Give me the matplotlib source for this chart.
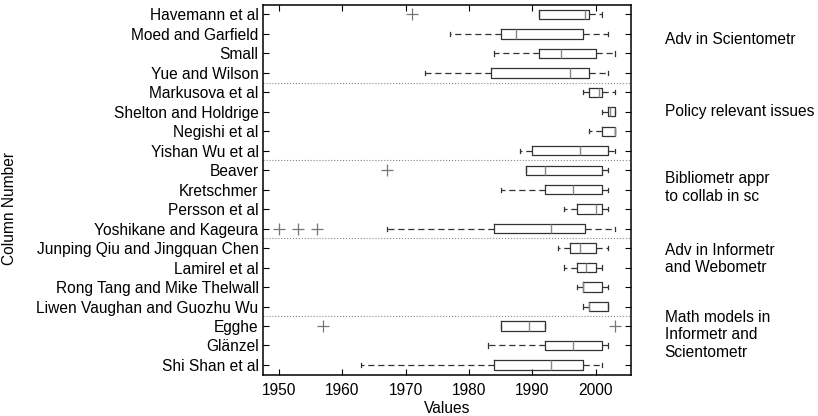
import matplotlib.pyplot as plt
import numpy as np

plt.rcParams['font.family'] = ['Liberation Sans', 'DejaVu Sans']

names = ["Havemann et al", "Moed and Garfield", "Small", "Yue and Wilson",
         "Markusova et al", "Shelton and Holdrige", "Negishi et al", "Yishan Wu et al",
         "Beaver", "Kretschmer", "Persson et al", "Yoshikane and Kageura",
         "Junping Qiu and Jingquan Chen", "Lamirel et al", "Rong Tang and Mike Thelwall",
         "Liwen Vaughan and Guozhu Wu", "Egghe", "Glänzel", "Shi Shan et al"]

whislo = [1991, 1977, 1984, 1973, 1998, 2001, 1999, 1988, 1989, 1985,
          1995, 1967, 1994, 1995, 1997, 1998, 1985, 1983, 1963]
q1 = [1991, 1985, 1991, 1983.4, 1999, 2002, 2001, 1990, 1989, 1992,
      1997, 1984, 1996, 1997, 1998, 1999, 1985, 1992, 1984]
med = [1998.4, 1987.5, 1994.5, 1996, 2000.5, 2002.3, 2003, 1997.5, 1992, 1996.4,
       2000.1, 1993, 1997.5, 1998.5, 1998, 1999, 1989.5, 1996.4, 1993]
q3 = [1998.9, 1998, 2000, 1999, 2001, 2003, 2003, 2002, 2001, 2001,
      2001, 1998.3, 2000, 2000, 2001, 2002, 1992, 2001, 1998]
whishi = [2001, 2002, 2003, 2002, 2003, 2003, 2003, 2003, 2002, 2002,
          2002, 2003, 2002, 2001, 2002, 2002, 1992, 2002, 2001]
outliers = {0: [1971], 8: [1967], 11: [1950, 1953, 1956], 16: [1957, 2003]}

groups = ["Adv in Scientometr", "Policy relevant issues",
          "Bibliometr appr\nto collab in sc", "Adv in Informetr\nand Webometr",
          "Math models in\nInformetr and\nScientometr"]
group_y = [2.28, 6.01, 9.89, 13.57, 17.46]
separators = [4.5, 8.5, 12.5, 16.5]

stats = []
for i in range(len(names)):
    stats.append(dict(label=names[i], whislo=whislo[i], q1=q1[i], med=med[i],
                      q3=q3[i], whishi=whishi[i], fliers=outliers.get(i, [])))

fs = 11.2
fig = plt.figure(figsize=(8.18, 4.16), dpi=100)
ax = fig.add_axes([0.3212, 0.0993, 0.4502, 0.8894])

pos = np.arange(1, len(names) + 1)
ax.bxp(stats, positions=pos, orientation='horizontal', widths=0.48,
       capwidths=0.22,
       boxprops=dict(color='#333333', lw=0.9),
       medianprops=dict(color='#888888', lw=1.0),
       whiskerprops=dict(color='#333333', lw=0.9, linestyle=(0, (5, 3))),
       capprops=dict(color='#333333', lw=0.9),
       flierprops=dict(marker='+', markeredgecolor='#777777', markersize=8,
                       markeredgewidth=0.9))

for s in separators:
    ax.axhline(s, color='#888888', lw=0.8, linestyle=':')

ax.set_xlim(1947.4, 2005.6)
ax.set_ylim(19.5, 0.5)
ax.set_xticks([1950, 1960, 1970, 1980, 1990, 2000])
ax.set_yticks(pos)
ax.set_yticklabels(names)
ax.tick_params(direction='in', top=True, right=True, length=4, labelsize=fs, width=0.8)
ax.tick_params(axis='x', pad=6)
ax.tick_params(axis='y', pad=3)
for sp in ax.spines.values():
    sp.set_linewidth(1.1)
ax.set_xlabel("Values", fontsize=fs)
ax.xaxis.set_label_coords(0.5, -0.071)
ax.set_ylabel("Column Number", fontsize=fs)
ax.yaxis.set_label_coords(-0.668, 0.45)

for t, y in zip(groups, group_y):
    ax.text(2010.9, y, t, fontsize=fs, va='center', ha='left', clip_on=False)

fig.savefig("out.png", dpi=100)
